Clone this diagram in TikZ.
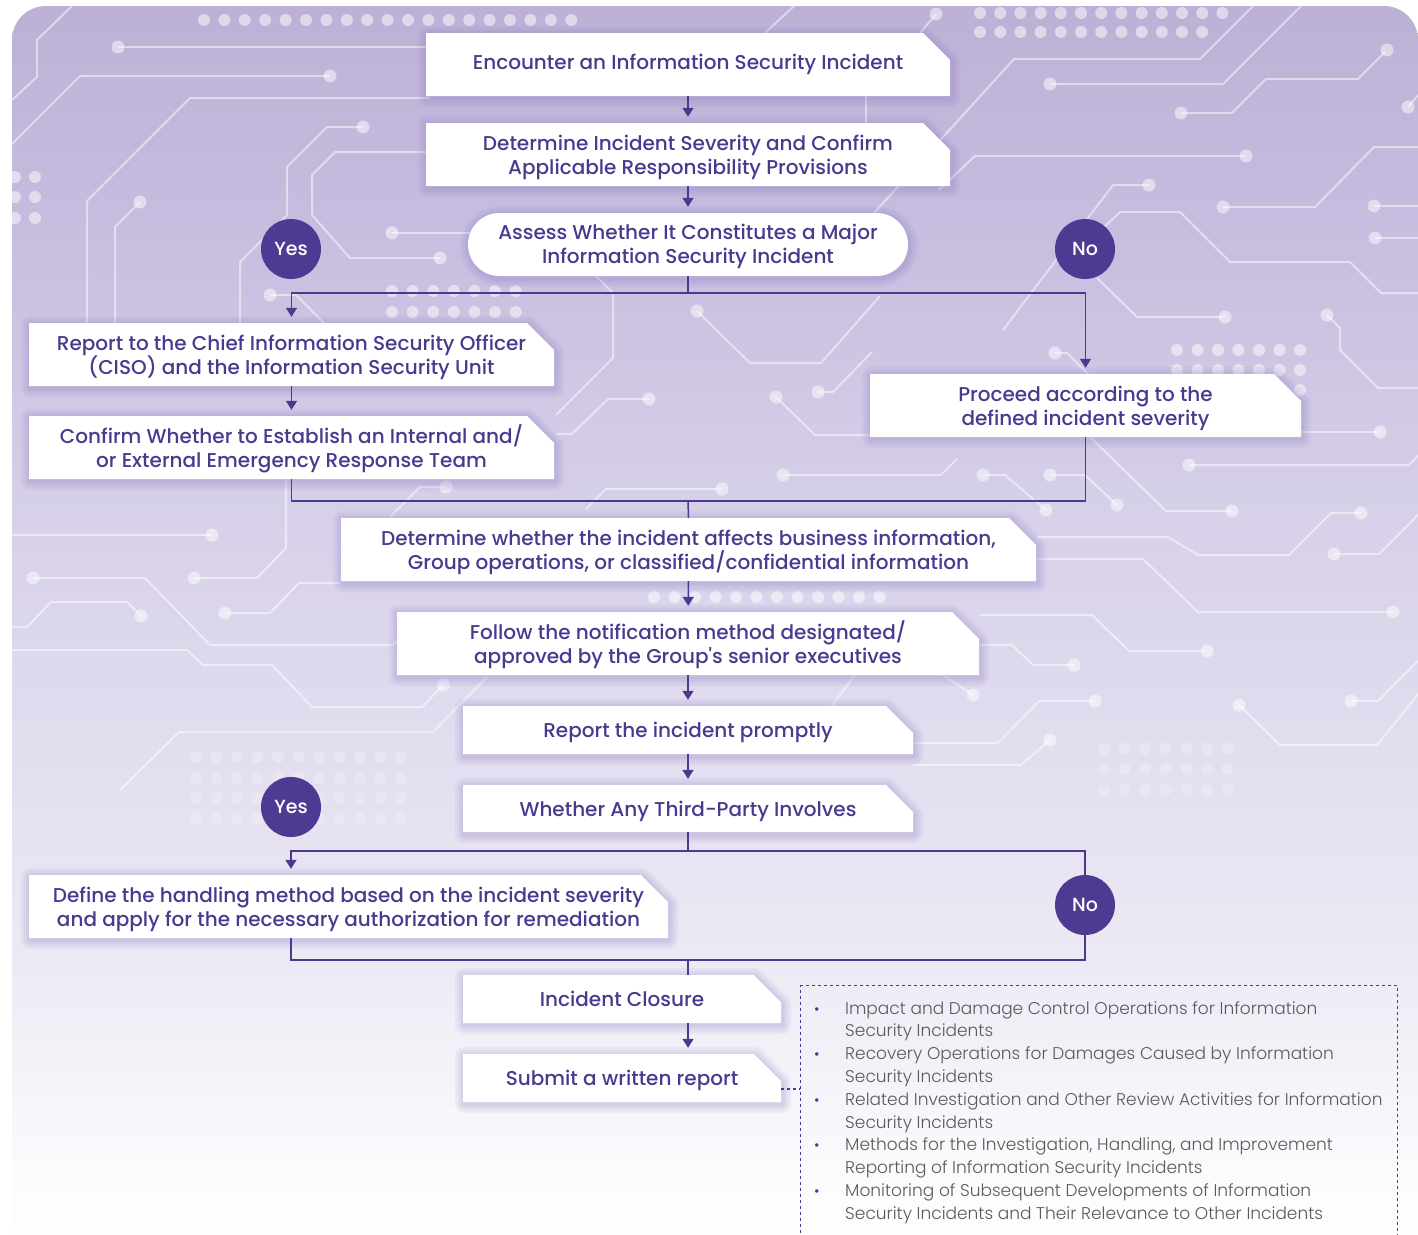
\documentclass[tikz,border=0pt]{standalone}
\usepackage{fontspec}
\setmainfont{Poppins}
\newfontfamily\popmed{Poppins Medium}
\newfontfamily\poplight{Poppins Light}
\usetikzlibrary{arrows.meta,calc}

\definecolor{ink}{HTML}{4B3990}
\definecolor{badge}{HTML}{4E3A92}
\definecolor{shadowcol}{HTML}{8472BF}
\definecolor{notegray}{HTML}{5A5A5A}
\definecolor{bg1}{HTML}{BDB0D6}
\definecolor{bg2}{HTML}{C8BEE0}
\definecolor{bg3}{HTML}{D6CFE8}
\definecolor{bg4}{HTML}{E2DDEF}
\definecolor{bg5}{HTML}{ECE9F4}
\definecolor{bg6}{HTML}{F6F5FA}
\definecolor{bg7}{HTML}{FDFDFE}

\pgfdeclareverticalshading{bgshade}{100bp}{color(0bp)=(white); color(25bp)=(white);
  color(28.9bp)=(bg7); color(32.7bp)=(bg6); color(38.5bp)=(bg5); color(46.3bp)=(bg4);
  color(55.9bp)=(bg3); color(65.6bp)=(bg2); color(75bp)=(bg1); color(100bp)=(bg1)}

\tikzset{
  boxnode/.style={inner sep=0pt},
  steptext/.style={inner sep=0pt, align=center, text=ink,
    font=\popmed\fontsize{20}{24}\selectfont},
  badgenode/.style={circle, fill=badge, minimum size=60pt, inner sep=0pt,
    text=white, font=\popmed\fontsize{19}{19}\selectfont},
  link/.style={draw=ink, line width=1.5pt},
  flow/.style={link, -{Triangle[width=11pt,length=9pt]}, shorten >=6pt},
  notelink/.style={draw=ink, line width=1.2pt, dash pattern=on 3pt off 3pt},
  trace/.style={draw=white, draw opacity=.5, line width=2pt, line join=round},
  tracedot/.style={fill=white, fill opacity=.5},
  faintdot/.style={fill=white, fill opacity=.22},
}

% chamfered step box: name, left, top, right, bottom, text, text drop
\newcommand\chambox[7]{%
  \foreach \w in {18,13,8,4}{%
    \draw[shadowcol, draw opacity=.08, line width=\w pt, line join=round, shift={(1,2)}]
      (#2,#3) -- ({#4-27},#3) -- (#4,{#3+27}) -- (#4,#5) -- (#2,#5) -- cycle;}
  \fill[white] (#2,#3) -- ({#4-27},#3) -- (#4,{#3+27}) -- (#4,#5) -- (#2,#5) -- cycle;
  \node[boxnode, minimum width={(#4-#2)*1pt}, minimum height={(#5-#3)*1pt}]
    (#1) at ({(#2+#4)/2},{(#3+#5)/2}) {};
  \node[steptext, yshift={-(#7)*1pt}] (#1-text) at (#1) {#6};
}
\newcommand\tdot[1]{\fill[tracedot] #1 circle (6.5pt);}
\newcommand\gdot[1]{\fill[tracedot] #1 circle (6pt);}
\newcommand\fdot[1]{\fill[faintdot] #1 circle (6pt);}
\newcommand\bul{\textcolor{ink}{\fontsize{15}{15}\selectfont\textbullet}}

\begin{document}
\begin{tikzpicture}[x=1pt, y=-1pt]
\useasboundingbox (0,0) rectangle (1418,1234);
\clip (0,0) rectangle (1418,1234);
\fill[white] (0,0) rectangle (1418,1234);

% background panel
\shade[shading=bgshade, rounded corners=34pt] (12,6) rectangle (1418,1300);

% circuit traces
\begin{scope}
  % upper left
  \draw[trace] (118,47) -- (430,47); \tdot{(118,47)}
  \draw[trace] (330,76) -- (80,76) -- (12,144); \tdot{(330,76)}
  \draw[trace] (12,100) -- (37,77) -- (37,40) -- (72,6);
  \draw[trace] (430,98) -- (190,98) -- (87,201) -- (87,330);
  \draw[trace] (363,127) -- (327,127) -- (287,167) -- (287,215) -- (240,262) -- (240,330); \tdot{(363,127)}
  \draw[trace] (430,152) -- (335,152) -- (312,175) -- (312,215) -- (350,258) -- (440,258); \tdot{(440,258)}
  \draw[trace] (140,202) -- (115,227) -- (115,330); \tdot{(140,202)}
  \draw[trace] (392,233) -- (470,233); \tdot{(392,233)}
  \draw[trace] (270,295) -- (296,295) -- (330,329); \tdot{(270,295)}
  \foreach \i in {0,...,18} {\gdot{({204+20.4*\i},20)}}
  \foreach \x in {15,35} {\foreach \y in {177,197,218} {\gdot{(\x,\y)}}}
  \foreach \i in {0,...,6} {\foreach \y in {291,312} {\gdot{({392+20.6*\i},\y)}}}
  % upper right
  \draw[trace] (794,6) -- (765,33);
  \draw[trace] (866,96) -- (866,123);
  \draw[trace] (936,14) -- (906,50); \tdot{(936,14)}
  \draw[trace] (874,213) -- (1014,59) -- (1200,59) -- (1253,6);
  \draw[trace] (1050,84) -- (1223,84) -- (1301,6); \tdot{(1050,84)}
  \draw[trace] (1181,113) -- (1232,113) -- (1266,79) -- (1358,79) -- (1385,52); \tdot{(1181,113)} \tdot{(1387,50)}
  \draw[trace] (1408,107) -- (1420,93); \tdot{(1408,107)}
  \draw[trace] (939,190) -- (975,156) -- (1246,156); \tdot{(1246,156)}
  \draw[trace] (1223,207) -- (1315,207) -- (1374,147) -- (1420,147); \tdot{(1223,207)}
  \draw[trace] (1374,206) -- (1420,206); \tdot{(1374,206)}
  \draw[trace] (1375,238) -- (1420,238); \tdot{(1375,238)}
  \draw[trace] (1149,185) -- (1113,185) -- (1003,330); \tdot{(1149,185)}
  \draw[trace] (1103,228) -- (1120,212) -- (1180,212) -- (1230,262) -- (1350,262) -- (1381,293) -- (1420,293);
  \draw[trace] (1097,278) -- (1137,317) -- (1225,317); \tdot{(1225,317)}
  \draw[trace] (1327,315) -- (1340,328) -- (1340,350) -- (1378,388) -- (1420,388); \tdot{(1327,315)}
  \draw[trace] (1055,353) -- (1067,353) -- (1090,376); \tdot{(1055,353)}
  \draw[trace] (1380,432) -- (1300,432); \tdot{(1380,432)}
  \foreach \i in {0,...,12} {\gdot{({980+20.2*\i},13)}}
  \foreach \i in {0,...,11} {\gdot{({980+20.2*\i},32)}}
  \foreach \i in {0,...,6} {\foreach \y in {350,370,390} {\gdot{({1177+20.5*\i},\y)}}}
  % middle
  \draw[trace] (596,276) -- (613,293) -- (613,358) -- (556,415);
  \draw[trace] (697,311) -- (750,363) -- (821,363) -- (880,296); \tdot{(697,311)}
  \draw[trace] (649,399) -- (608,399) -- (572,434) -- (556,434); \tdot{(649,399)}
  \draw[trace] (776,397) -- (815,435) -- (870,435); \tdot{(776,397)}
  \draw[trace] (818,392) -- (833,392) -- (872,352); \tdot{(818,392)}
  \draw[trace] (722,489) -- (606,489) -- (586,509); \tdot{(722,489)}
  \draw[trace] (783,475) -- (941,475) -- (957,459); \tdot{(783,475)}
  \draw[trace] (446,487) -- (420,487) -- (390,517); \tdot{(446,487)}
  \draw[trace] (983,475) -- (1005,475) -- (1046,510); \tdot{(983,475)} \tdot{(1046,510)}
  \draw[trace] (1050,475) -- (1085,475) -- (1117,505); \tdot{(1050,475)} \tdot{(1117,505)}
  \draw[trace] (1090,437) -- (1166,511) -- (1232,511); \tdot{(1232,511)}
  \draw[trace] (1189,465) -- (1409,465) -- (1420,454); \tdot{(1189,465)}
  \draw[trace] (1361,513) -- (1331,513) -- (1289,555) -- (1198,555) -- (1168,537) -- (1037,537); \tdot{(1361,513)}
  \draw[trace] (1334,554) -- (1379,554) -- (1420,513); \tdot{(1334,554)}
  \draw[trace] (1037,559) -- (1143,559) -- (1198,612) -- (1393,612); \tdot{(1393,612)}
  \draw[trace] (980,615) -- (1092,615) -- (1129,651) -- (1207,651); \tdot{(1207,651)}
  \draw[trace] (980,645) -- (1012,645) -- (1033,665) -- (1074,665); \tdot{(1074,665)}
  \draw[trace] (973,695) -- (940,673); \tdot{(973,695)}
  \draw[trace] (1095,701) -- (1039,701) -- (998,743) -- (913,743); \tdot{(1095,701)}
  \draw[trace] (1239,705) -- (1280,745) -- (1377,745) -- (1420,692); \tdot{(1239,705)}
  \draw[trace] (1351,701) -- (1378,701) -- (1420,659); \tdot{(1351,701)}
  \draw[trace] (1050,740) -- (1021,765) -- (913,765); \tdot{(1050,740)}
  \draw[trace] (831,707) -- (855,675);
  \foreach \i in {0,...,6} {\foreach \y in {749,769,790} {\fdot{({1104+20.6*\i},\y)}}}
  % left middle
  \draw[trace] (212,535) -- (12,535); \tdot{(212,535)}
  \draw[trace] (286,479) -- (286,548) -- (257,578) -- (194,578); \tdot{(194,578)}
  \draw[trace] (33,578) -- (145,578) -- (210,645) -- (393,645) -- (420,618); \tdot{(33,578)}
  \draw[trace] (141,616) -- (127,602) -- (51,602) -- (27,627) -- (12,627); \tdot{(141,616)}
  \draw[trace] (225,613) -- (270,613) -- (299,583) -- (341,583); \tdot{(225,613)}
  \draw[trace] (12,650) -- (187,650) -- (203,665) -- (272,665) -- (312,707) -- (422,707) -- (443,685); \tdot{(443,685)}
  \draw[trace] (120,790) -- (179,732) -- (433,732) -- (487,677);
  \foreach \i in {0,...,10} {\foreach \y in {757,778,798,818} {\fdot{({196+20.5*\i},\y)}}}
  \foreach \i in {0,...,11} {\gdot{({654+20.5*\i},597)}}
\end{scope}

% step boxes
\chambox{b1}{426}{33}{950}{96}{Encounter an Information Security Incident}{0}
\chambox{b2}{426}{123}{950}{186}{Determine Incident Severity and Confirm\\Applicable Responsibility Provisions}{2.5}
\foreach \w in {18,13,8,4}{%
  \draw[shadowcol, draw opacity=.08, line width=\w pt, rounded corners=31.5pt, shift={(1,2)}]
    (468,213) rectangle (908,276);}
\fill[white, rounded corners=31.5pt] (468,213) rectangle (908,276);
\node[boxnode, minimum width=440pt, minimum height=63pt] (b3) at (688,244.5) {};
\node[steptext, yshift=-1.5pt] (b3-text) at (b3)
  {Assess Whether It Constitutes a Major\\Information Security Incident};
\chambox{b4}{29}{323}{554}{386}{Report to the Chief Information Security Officer\\(CISO) and the Information Security Unit}{2.5}
\chambox{b5}{29}{416}{554}{479}{Confirm Whether to Establish an Internal and/\\or External Emergency Response Team}{1.5}
\chambox{b6}{870}{374}{1301}{437}{Proceed according to the\\defined incident severity}{2.5}
\chambox{b7}{341}{518}{1036}{581}{Determine whether the incident affects business information,\\Group operations, or classified/confidential information}{2.5}
\chambox{b8}{397}{612}{979}{675}{Follow the notification method designated/\\approved by the Group's senior executives}{1.5}
\chambox{b9}{463}{706}{913}{754}{Report the incident promptly}{2.5}
\chambox{b10}{463}{785}{913}{832}{Whether Any Third-Party Involves}{2.5}
\chambox{b11}{29}{875}{668}{938}{Define the handling method based on the incident severity\\and apply for the necessary authorization for remediation}{2.5}
\chambox{b12}{463}{975}{781}{1023}{Incident Closure}{0}
\chambox{b13}{463}{1054}{781}{1102}{Submit a written report}{2.5}

% decision badges
\node[badgenode] (yes1) at (291,249) {Yes};
\node[badgenode] (no1) at (1085,249) {No};
\node[badgenode] (yes2) at (291,807) {Yes};
\coordinate (nocol) at (1085,905);

% connectors
\draw[flow] (b1) -- (b2);
\draw[flow] (b2) -- (b3);
\coordinate (j1) at ($(b3.south)+(0,17)$);
\draw[link] (b3.south) -- (j1);
\draw[flow] (j1) -| (b4.north);
\draw[flow] (j1) -| (b6.north);
\draw[flow] (b4) -- (b5);
\coordinate (j2) at (688,501);
\draw[link] (b5.south) |- (j2) -| (b6.south);
\draw[link] (j2) -- (b7.north);
\draw[flow] (b7) -- (b8);
\draw[flow] (b8) -- (b9);
\draw[flow] (b9) -- (b10);
\coordinate (j3) at ($(b10.south)+(0,19)$);
\coordinate (j4) at (688,960);
\draw[link] (b10.south) -- (j3);
\draw[flow] (j3) -| (yes2 |- b11.north);
\draw[link] (yes2 |- b11.south) -- (yes2 |- j4) -- (nocol |- j4) -- (nocol |- j3) -- (j3);
\node[badgenode] (no2) at (nocol) {No};
\draw[link] (j4) -- (j4 |- b12.north);
\draw[flow] (j4 |- b12.south) -- (j4 |- b13.north);

% notes on the written report
\node[notelink, draw, anchor=north west, minimum width=597pt, minimum height=320pt, inner sep=0pt]
  (notes) at (800,985) {};
\draw[notelink] ([yshift=-11pt]b13.east) -- ([yshift=-11pt]b13.east -| notes.west);
\node[anchor=north west, inner sep=0pt, text=notegray,
  font=\poplight\fontsize{17}{22.8}\selectfont] (items) at (814,998) {%
  \begin{tabular}{@{}p{31pt}@{}l@{}}
  \bul & Impact and Damage Control Operations for Information\\
       & Security Incidents\\
  \bul & Recovery Operations for Damages Caused by Information\\
       & Security Incidents\\
  \bul & Related Investigation and Other Review Activities for Information\\
       & Security Incidents\\
  \bul & Methods for the Investigation, Handling, and Improvement\\
       & Reporting of Information Security Incidents\\
  \bul & Monitoring of Subsequent Developments of Information\\
       & Security Incidents and Their Relevance to Other Incidents
  \end{tabular}};
\end{tikzpicture}
\end{document}
